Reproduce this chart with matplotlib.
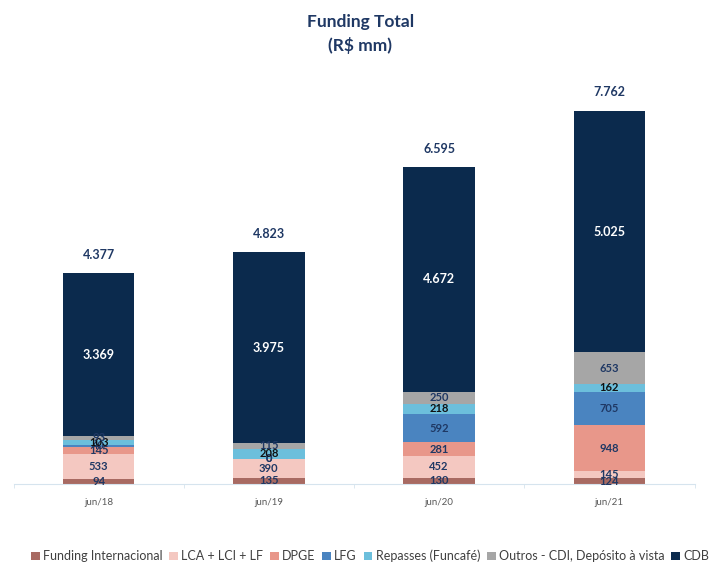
import matplotlib
matplotlib.use("Agg")
import matplotlib.pyplot as plt
import numpy as np

plt.rcParams['font.family'] = ['Lato', 'DejaVu Sans']

categories = ["jun/18", "jun/19", "jun/20", "jun/21"]
series_names = ["Funding Internacional", "LCA + LCI + LF", "DPGE", "LFG",
                "Repasses (Funcafé)", "Outros - CDI, Depósito à vista", "CDB"]
funding_internacional = [94, 135, 130, 124]
lca_lci_lf = [533, 390, 452, 145]
dpge = [145, 0, 281, 948]
lfg = [40, 0, 592, 705]
repasses = [103, 208, 218, 162]
outros = [93, 115, 250, 653]
cdb = [3369, 3975, 4672, 5025]
totals = ["4.377", "4.823", "6.595", "7.762"]

series = [funding_internacional, lca_lci_lf, dpge, lfg, repasses, outros, cdb]
colors = ["#A86A62", "#F4C8C1", "#E8978A", "#4A84C0", "#6CBFDC", "#A6A6A6", "#0B2A4D"]
label_colors = ["#1F3864", "#1F3864", "#1F3864", "#1F3864", "#111111", "#1F3864", "white"]

fig = plt.figure(figsize=(7.21, 5.62), dpi=100)
ax = fig.add_axes([13.5/721, 78/562, 681/721, 404/562])

x = np.arange(len(categories))
bottom = np.zeros(len(categories))
handles = []
for vals, col, lc, name in zip(series, colors, label_colors, series_names):
    vals = np.array(vals, dtype=float)
    b = ax.bar(x, vals, 0.42, bottom=bottom, color=col, label=name, linewidth=0)
    handles.append(b)
    for xi, v, bt in zip(x, vals, bottom):
        txt = f"{int(v):,}".replace(",", ".")
        fs = 9 if name == "CDB" else 8
        ax.text(xi, bt + v / 2, txt, ha="center", va="center", fontsize=fs,
                fontweight="bold", color=lc)
    bottom += vals

for xi, tot, t in zip(x, bottom, totals):
    ax.text(xi, tot + 380, t, ha="center", va="center", fontsize=9,
            fontweight="bold", color="#1F3864")

ax.set_xlim(-0.5, 3.5)
ax.set_ylim(0, 8400)
ax.set_yticks([])
for s in ["top", "right", "left"]:
    ax.spines[s].set_visible(False)
ax.spines["bottom"].set_color("#D6E4EE")
ax.set_xticks(x)
ax.set_xticklabels(categories, fontsize=7, color="#595959")
ax.set_xticks(np.arange(-0.5, 4.0, 1.0), minor=True)
ax.tick_params(axis="x", which="major", length=0, pad=10)
ax.tick_params(axis="x", which="minor", length=3, color="#D6E4EE")

fig.text(0.5, 1 - 22/562, "Funding Total", ha="center", va="center",
         fontsize=12.5, fontweight="bold", color="#1F3864")
fig.text(0.5, 1 - 46/562, "(R$ mm)", ha="center", va="center",
         fontsize=12.5, fontweight="bold", color="#1F3864")

leg = fig.legend(handles=handles, labels=series_names, loc="center left",
                 bbox_to_anchor=(26/721, 1 - 556/562), ncol=7, frameon=False,
                 fontsize=9, handlelength=0.7, handleheight=0.7,
                 handletextpad=0.25, columnspacing=0.55, borderaxespad=0)
for t in leg.get_texts():
    t.set_color("#404040")

fig.savefig("out.png", dpi=100)
